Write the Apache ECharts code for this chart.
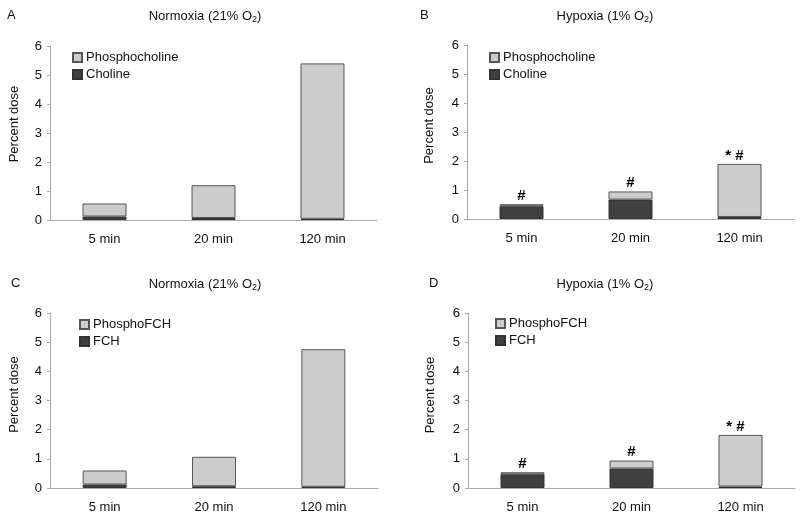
<!DOCTYPE html>
<html><head><meta charset="utf-8">
<script src="https://cdn.jsdelivr.net/npm/echarts@6/dist/echarts.min.js"></script>
<style>html,body{margin:0;padding:0;background:#fff}#c{width:800px;height:520px}</style>
</head><body><div id="c"></div>
<script>
var categories = ['5 min', '20 min', '120 min'];
var yTicks = [0, 1, 2, 3, 4, 5, 6];
// Panel A: Normoxia, choline tracer
var choA = [0.12, 0.07, 0.04];
var phosA = [0.45, 1.13, 5.36];
// Panel B: Hypoxia, choline tracer
var choB = [0.44, 0.67, 0.07];
var phosB = [0.07, 0.28, 1.83];
var annB = ['#', '#', '* #'];
// Panel C: Normoxia, FCH tracer
var fchC = [0.12, 0.06, 0.04];
var phosC = [0.48, 1.01, 4.72];
// Panel D: Hypoxia, FCH tracer
var fchD = [0.47, 0.67, 0.05];
var phosD = [0.07, 0.27, 1.77];
var annD = ['#', '#', '* #'];

var FONT = 'Liberation Sans, Arial, sans-serif';
var LIGHT = '#cccccc', DARK = '#404040', EDGE = '#555555';

var grids = [
  {left: 50, top: 46, width: 327, height: 174},
  {left: 467, top: 45, width: 327, height: 174},
  {left: 50, top: 313, width: 328, height: 175},
  {left: 468, top: 313, width: 327, height: 175}
];
var panelTitles = [
  {letter: 'A', cond: 'Normoxia (21% O', x: 205, y: 8, lx: 7},
  {letter: 'B', cond: 'Hypoxia (1% O', x: 605, y: 8, lx: 420},
  {letter: 'C', cond: 'Normoxia (21% O', x: 205, y: 276, lx: 11},
  {letter: 'D', cond: 'Hypoxia (1% O', x: 605, y: 276, lx: 429}
];
var legendPos = [[72, 51], [489, 51], [79, 318], [495, 317]];
var nameShift = [18, 13, 12, 11];
var names = [['Phosphocholine', 'Choline'], ['Phosphocholine', 'Choline'], ['PhosphoFCH', 'FCH'], ['PhosphoFCH', 'FCH']];
var darkData = [choA, choB, fchC, fchD];
var lightData = [phosA, phosB, phosC, phosD];
var anns = [null, annB, null, annD];

var titles = [], xAxes = [], yAxes = [], series = [], legends = [];
panelTitles.forEach(function (p) {
  titles.push({text: '{n|' + p.cond + '}{s|2}{n|)}', left: p.x, top: p.y, textAlign: 'center', padding: 0,
    textStyle: {fontWeight: 'normal', rich: {
      n: {fontFamily: FONT, fontSize: 13, fontWeight: 'normal', color: '#111', lineHeight: 16},
      s: {fontFamily: FONT, fontSize: 9, fontWeight: 'normal', color: '#111', lineHeight: 16, verticalAlign: 'bottom'}}}});
  titles.push({text: p.letter, left: p.lx, top: p.y + 1, padding: 0,
    textStyle: {fontFamily: FONT, fontSize: 13, fontWeight: 'normal', color: '#111'}});
});
grids.forEach(function (g, i) {
  xAxes.push({type: 'category', gridIndex: i, data: categories,
    axisLine: {lineStyle: {color: '#aaaaaa'}}, axisTick: {length: 5, lineStyle: {color: '#aaaaaa'}},
    axisLabel: {fontFamily: FONT, fontSize: 13, color: '#111', margin: 13}});
  yAxes.push({type: 'value', gridIndex: i, min: yTicks[0], max: yTicks[yTicks.length - 1], interval: 1,
    name: 'Percent dose', nameLocation: 'middle', nameGap: i % 2 ? 31 : 29,
    nameTextStyle: {fontFamily: FONT, fontSize: 13, color: '#111', padding: [0, 0, 0, nameShift[i]]},
    axisLine: {show: true, lineStyle: {color: '#aaaaaa'}}, axisTick: {show: true, length: 3, lineStyle: {color: '#aaaaaa'}},
    splitLine: {show: false},
    axisLabel: {fontFamily: FONT, fontSize: 13, color: '#111', margin: 8}});
  series.push({name: names[i][1], type: 'bar', stack: 's' + i, xAxisIndex: i, yAxisIndex: i, data: darkData[i], barWidth: 44,
    itemStyle: {color: DARK, borderColor: '#333', borderWidth: 1}});
  var a = anns[i];
  var data = lightData[i].map(function (v, k) {
    if (!a) return v;
    return {value: v, label: {offset: [a[k].indexOf('*') >= 0 ? -5 : 0, 0]}};
  });
  var s = {name: names[i][0], type: 'bar', stack: 's' + i, xAxisIndex: i, yAxisIndex: i, data: data, barWidth: 44,
    itemStyle: {color: LIGHT, borderColor: EDGE, borderWidth: 1}};
  if (a) {
    s.label = {show: true, position: 'top', distance: 1, fontFamily: FONT, fontSize: 15, fontWeight: 'bold', color: '#000',
      formatter: (function (arr) { return function (p) { return arr[p.dataIndex]; }; })(a)};
  }
  series.push(s);
  legends.push({orient: 'vertical', left: legendPos[i][0], top: legendPos[i][1], padding: 0, itemWidth: 9, itemHeight: 9, itemGap: 4,
    icon: 'rect', data: names[i], selectedMode: false,
    textStyle: {fontFamily: FONT, fontSize: 13, color: '#111', padding: [0, 0, 0, -1]}});
});

var chart = echarts.init(document.getElementById('c'));
chart.setOption({animation: false, backgroundColor: '#fff', title: titles, grid: grids, xAxis: xAxes, yAxis: yAxes, series: series, legend: legends});
</script></body></html>
